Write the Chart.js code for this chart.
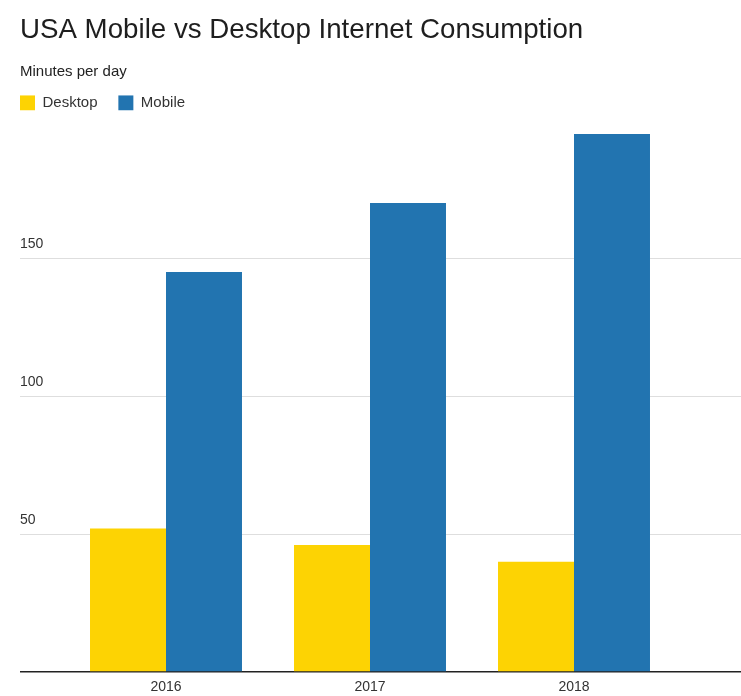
<!DOCTYPE html>
<html>
<head>
<meta charset="utf-8">
<script src="https://cdn.jsdelivr.net/npm/chart.js@4.4.1/dist/chart.umd.min.js"></script>
<style>
  body { margin: 0; background: #fff; }
  #wrap { width: 741px; height: 696px; }
</style>
</head>
<body>
<div id="wrap"><canvas id="chart"></canvas></div>
<script>
var years = ['2016', '2017', '2018'];
var desktop = [52, 46, 40];
var mobile = [145, 170, 195];
var yTicks = [50, 100, 150];

var font = "'Liberation Sans', Arial, Helvetica, sans-serif";

function gridColor(ctx) {
    if (ctx.tick.value === 0) return '#222';
    if (yTicks.indexOf(ctx.tick.value) < 0) return 'rgba(0,0,0,0)';
    return '#dedede';
}
function gridWidth(ctx) {
    return ctx.tick.value === 0 ? 1.5 : 1;
}

new Chart(document.getElementById('chart'), {
    type: 'bar',
    data: {
        labels: years,
        datasets: [{
            label: 'Desktop',
            data: desktop,
            backgroundColor: '#fdd303',
            borderWidth: 0
        }, {
            label: 'Mobile',
            data: mobile,
            backgroundColor: '#2274b0',
            borderWidth: 0
        }]
    },
    options: {
        responsive: true,
        maintainAspectRatio: false,
        animation: false,
        layout: { padding: { left: 20, right: 0, top: 0, bottom: 0 } },
        datasets: {
            bar: { categoryPercentage: 0.745, barPercentage: 1 }
        },
        plugins: {
            title: {
                display: true,
                text: 'USA Mobile vs Desktop Internet Consumption',
                align: 'start',
                color: '#1e1e1e',
                font: { family: font, size: 27.7, weight: 'normal' },
                padding: { top: 14, bottom: 16 }
            },
            subtitle: {
                display: true,
                text: 'Minutes per day',
                align: 'start',
                color: '#222',
                font: { family: font, size: 15 },
                padding: { top: 0, bottom: 14 }
            },
            legend: {
                align: 'start',
                labels: {
                    boxWidth: 15,
                    boxHeight: 15,
                    padding: 0,
                    color: '#333',
                    font: { family: font, size: 15 },
                    generateLabels: function(chart) {
                        var items = Chart.defaults.plugins.legend.labels.generateLabels(chart);
                        items[0].text = items[0].text + '\u00a0\u00a0\u00a0\u00a0\u00a0';
                        return items;
                    }
                }
            },
            tooltip: { enabled: false }
        },
        scales: {
            x: {
                grid: { display: false, drawTicks: false },
                border: { display: false },
                ticks: { color: '#333', padding: 7, font: { family: font, size: 14 } },
                afterFit: function(scale) { scale.height = 24; }
            },
            y: {
                position: 'left',
                min: 0,
                max: 200,
                border: { display: false },
                grid: { color: gridColor, lineWidth: gridWidth, tickLength: 44 },
                ticks: {
                    stepSize: 50,
                    crossAlign: 'far',
                    labelOffset: -14,
                    color: '#333',
                    font: { family: font, size: 14, lineHeight: 0.8 },
                    callback: function(v) { return yTicks.indexOf(v) >= 0 ? v : ''; }
                },
                afterFit: function(scale) { scale.width = 44; }
            },
            y2: {
                position: 'right',
                min: 0,
                max: 200,
                border: { display: false },
                grid: { color: gridColor, lineWidth: gridWidth, drawOnChartArea: false, tickLength: 65 },
                ticks: { stepSize: 50, display: false },
                afterFit: function(scale) { scale.width = 65; }
            }
        }
    }
});
</script>
</body>
</html>
